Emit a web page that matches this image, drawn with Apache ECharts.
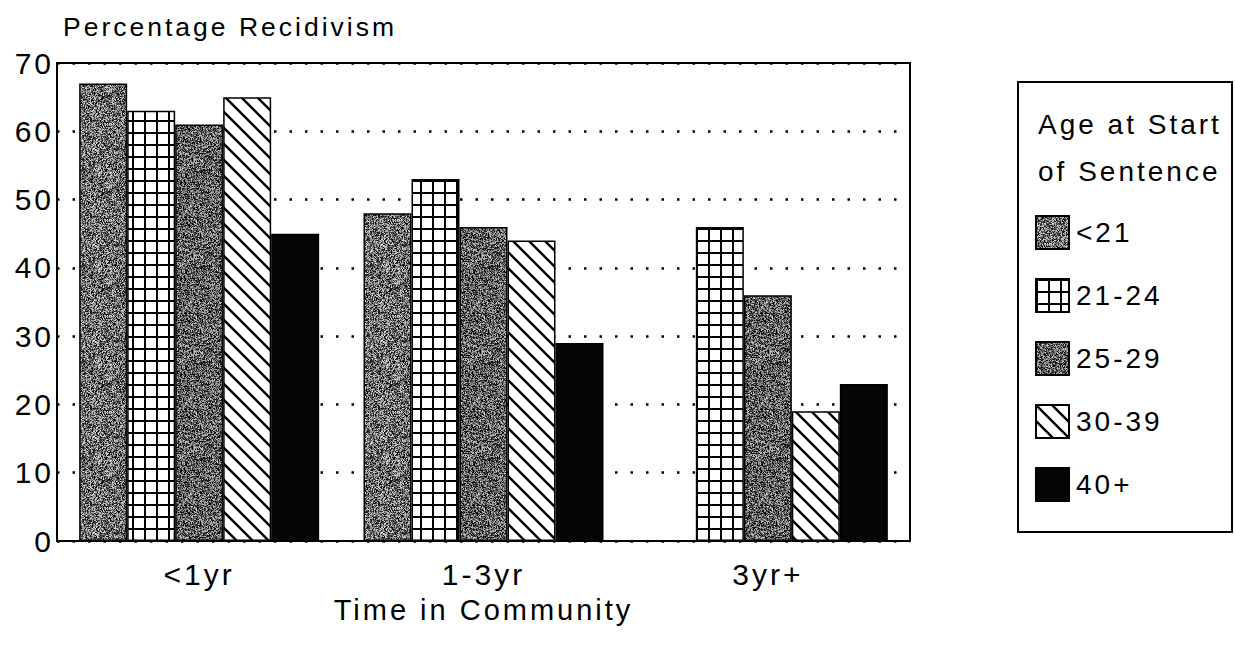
<!DOCTYPE html>
<html>
<head>
<meta charset="utf-8">
<script src="https://cdn.jsdelivr.net/npm/echarts@6/dist/echarts.min.js"></script>
<style>
  html, body { margin: 0; padding: 0; background: #fff; }
  #chart { width: 1235px; height: 648px; }
  #chart text { letter-spacing: 3px; }
</style>
</head>
<body>
<div id="chart"></div>
<script>
// ---- data ----
const categories = ['<1yr', '1-3yr', '3yr+'];
const seriesNames = ['<21', '21-24', '25-29', '30-39', '40+'];
const valsUnder21 = [67, 48, null];
const vals21to24 = [63, 53, 46];
const vals25to29 = [61, 46, 36];
const vals30to39 = [65, 44, 19];
const vals40plus = [45, 29, 23];
const yTicks = [0, 10, 20, 30, 40, 50, 60, 70];
const titleText = 'Percentage Recidivism';
const xAxisTitle = 'Time in Community';
const legendTitle = ['Age at Start', 'of Sentence'];

// ---- texture helpers (deterministic) ----
function hash(x, y, s) {
  let n = Math.imul(x, 374761393) + Math.imul(y, 668265263) + Math.imul(s, 144665);
  n = Math.imul(n ^ (n >>> 13), 1274126177);
  n = n ^ (n >>> 16);
  return (n >>> 0) / 4294967296;
}
function stipple(base, range, seed) {
  const c = document.createElement('canvas');
  c.width = 96; c.height = 96;
  const ctx = c.getContext('2d');
  const img = ctx.createImageData(96, 96);
  for (let y = 0; y < 96; y++) {
    for (let x = 0; x < 96; x++) {
      const v = hash(x, y, seed);
      let g = base + (v - 0.5) * range;
      g = Math.max(0, Math.min(255, g));
      const i = (y * 96 + x) * 4;
      img.data[i] = img.data[i + 1] = img.data[i + 2] = g;
      img.data[i + 3] = 255;
    }
  }
  ctx.putImageData(img, 0, 0);
  return c;
}
function gridPattern() {
  const c = document.createElement('canvas');
  c.width = 12; c.height = 12;
  const ctx = c.getContext('2d');
  ctx.fillStyle = '#fff'; ctx.fillRect(0, 0, 12, 12);
  ctx.fillStyle = '#000';
  ctx.fillRect(0, 0, 2, 12);
  ctx.fillRect(0, 0, 12, 2);
  return c;
}
function diagPattern() {
  const s = 16;
  const c = document.createElement('canvas');
  c.width = s; c.height = s;
  const ctx = c.getContext('2d');
  ctx.fillStyle = '#fff'; ctx.fillRect(0, 0, s, s);
  ctx.strokeStyle = '#000'; ctx.lineWidth = 2.4;
  ctx.beginPath();
  ctx.moveTo(-4, -4); ctx.lineTo(s + 4, s + 4);
  ctx.moveTo(-4 - s, -4); ctx.lineTo(4, s + 4);
  ctx.moveTo(s - 4, -4); ctx.lineTo(2 * s + 4, s + 4);
  ctx.stroke();
  return c;
}

const fills = [
  { image: stipple(108, 230, 1), repeat: 'repeat' },
  { image: gridPattern(), repeat: 'repeat' },
  { image: stipple(94, 220, 2), repeat: 'repeat' },
  { image: diagPattern(), repeat: 'repeat' },
  '#050505'
];
const seriesData = [valsUnder21, vals21to24, vals25to29, vals30to39, vals40plus];

const FONT = "'Liberation Sans', Arial, Helvetica, sans-serif";

const chart = echarts.init(document.getElementById('chart'), null, { renderer: 'svg' });

chart.setOption({
  backgroundColor: '#fff',
  animation: false,
  textStyle: { fontFamily: FONT, color: '#000' },
  title: {
    text: titleText,
    left: 58,
    top: 8,
    textStyle: { fontFamily: FONT, fontSize: 26.5, fontWeight: 'normal', color: '#000' }
  },
  grid: {
    left: 57, right: 325, top: 63, bottom: 107,
    show: true, borderColor: '#000', borderWidth: 2, backgroundColor: 'transparent'
  },
  legend: {
    orient: 'vertical',
    left: 1035,
    top: 215,
    padding: 0,
    itemWidth: 33,
    itemHeight: 33,
    itemGap: 28,
    icon: 'rect',
    data: seriesNames,
    textStyle: { fontFamily: FONT, fontSize: 28, lineHeight: 33, color: '#000', padding: [0, 0, 0, 2] },
    selectedMode: false
  },
  xAxis: {
    type: 'category',
    data: categories,
    name: xAxisTitle,
    nameLocation: 'middle',
    nameGap: 54,
    nameTextStyle: { fontFamily: FONT, fontSize: 29, color: '#000' },
    axisLine: { lineStyle: { color: '#000', width: 2 } },
    axisTick: { show: false },
    axisLabel: { fontFamily: FONT, fontSize: 30, color: '#000', margin: 18 }
  },
  yAxis: {
    type: 'value',
    min: yTicks[0],
    max: yTicks[yTicks.length - 1],
    interval: 10,
    axisLine: { show: true, lineStyle: { color: '#000', width: 2 } },
    axisTick: { show: false },
    axisLabel: { fontFamily: FONT, fontSize: 30, color: '#000', margin: 3 },
    splitLine: {
      show: true,
      lineStyle: { color: '#000', width: 2.5, type: [2.5, 13] }
    }
  },
  graphic: [
    {
      type: 'rect',
      shape: { x: 1018, y: 82, width: 214, height: 450 },
      style: { fill: 'none', stroke: '#000', lineWidth: 2 },
      z: 1
    },
    {
      type: 'text',
      left: 1038,
      top: 110,
      style: { text: legendTitle[0], font: '28px ' + FONT, fill: '#000' }
    },
    {
      type: 'text',
      left: 1038,
      top: 157,
      style: { text: legendTitle[1], font: '28px ' + FONT, fill: '#000' }
    }
  ],
  series: seriesNames.map((name, i) => ({
    name: name,
    type: 'bar',
    data: seriesData[i],
    barWidth: 48,
    barGap: '0%',
    itemStyle: { color: fills[i], borderColor: '#000', borderWidth: 1.5 }
  }))
});
</script>
</body>
</html>
